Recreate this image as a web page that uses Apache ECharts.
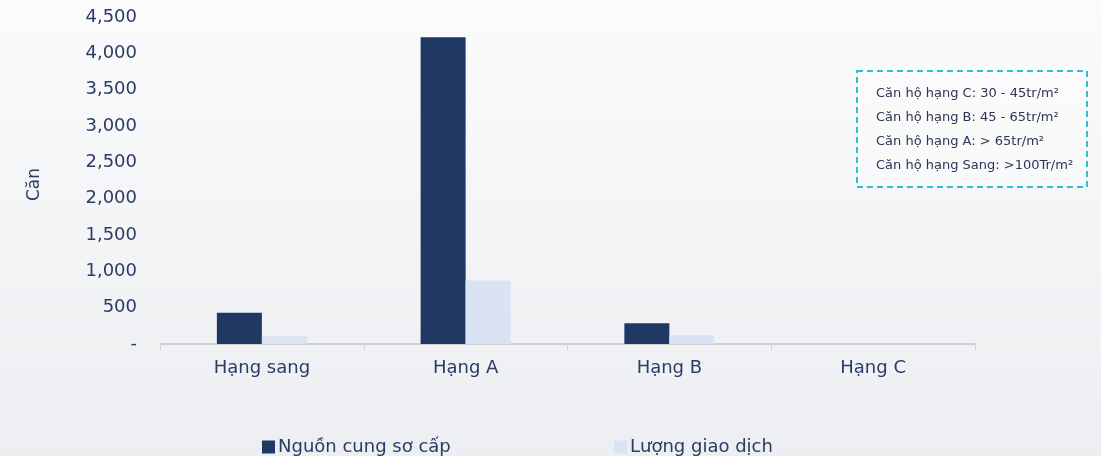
<!DOCTYPE html>
<html>
<head>
<meta charset="utf-8">
<script src="https://cdn.jsdelivr.net/npm/echarts@6/dist/echarts.min.js"></script>
<style>
  html, body { margin: 0; padding: 0; }
  #chart { width: 1101px; height: 456px;
    background: linear-gradient(180deg, #fbfbfc 0%, #f3f4f6 55%, #eceef1 100%); }
</style>
</head>
<body>
<div id="chart"></div>
<script>
// Apartment segments
const categories = ['Hạng sang', 'Hạng A', 'Hạng B', 'Hạng C'];
// Units (căn)
const primarySupply = [430, 4220, 287, 0];
const transactions = [108, 875, 121, 0];
const seriesNames = ['Nguồn cung sơ cấp', 'Lượng giao dịch'];
const yTicks = { min: 0, max: 4500, interval: 500 };
const priceNotes = [
  'Căn hộ hạng C: 30 - 45tr/m²',
  'Căn hộ hạng B: 45 - 65tr/m²',
  'Căn hộ hạng A: > 65tr/m²',
  'Căn hộ hạng Sang: >100Tr/m²'
];

const textColor = '#2a3b66';
const fontFamily = '"DejaVu Sans", "Noto Sans", sans-serif';

const chart = echarts.init(document.getElementById('chart'), null, { renderer: 'canvas' });

const legendBase = {
  top: 433,
  itemWidth: 13,
  itemHeight: 13,
  icon: 'rect',
  textStyle: { color: textColor, fontSize: 18, fontFamily, padding: [0, 0, 0, -2] }
};

chart.setOption({
  backgroundColor: 'transparent',
  textStyle: { fontFamily },
  grid: { left: 160, right: 126, top: 17, bottom: 112 },
  legend: [
    Object.assign({ left: 257, data: [seriesNames[0]] }, legendBase),
    Object.assign({ left: 609, data: [seriesNames[1]] }, legendBase)
  ],
  xAxis: {
    type: 'category',
    data: categories,
    axisLine: { lineStyle: { color: '#cfd0d3', width: 2 } },
    axisTick: { show: true, length: 6, lineStyle: { color: '#cfd0d3', width: 1 } },
    axisLabel: { color: textColor, fontSize: 18, margin: 15, fontFamily }
  },
  yAxis: {
    type: 'value',
    min: yTicks.min,
    max: yTicks.max,
    interval: yTicks.interval,
    name: 'Căn',
    nameLocation: 'middle',
    nameGap: 117,
    nameRotate: 90,
    nameTextStyle: { color: textColor, fontSize: 17, fontFamily, padding: [0, 8, 0, 0] },
    axisLine: { show: false },
    axisTick: { show: false },
    splitLine: { show: false },
    axisLabel: {
      color: textColor,
      fontSize: 18,
      margin: 23,
      fontFamily,
      formatter: v => v === 0 ? '-' : v.toLocaleString('en-US')
    }
  },
  series: [
    {
      name: seriesNames[0],
      type: 'bar',
      data: primarySupply,
      barWidth: 45,
      barGap: '0%',
      itemStyle: { color: '#203864' }
    },
    {
      name: seriesNames[1],
      type: 'bar',
      data: transactions,
      barWidth: 45,
      barGap: '0%',
      itemStyle: { color: '#dae3f3' }
    }
  ],
  graphic: [
    {
      type: 'rect',
      left: 856,
      top: 70,
      shape: { width: 230, height: 116 },
      style: { fill: 'rgba(255,255,255,0.35)', stroke: '#2fbfcf', lineWidth: 2, lineDash: [6, 4] }
    },
    ...priceNotes.map((t, i) => ({
      type: 'text',
      left: 876,
      top: 87 + i * 24,
      style: { text: t, fill: '#2b3550', font: '13px ' + fontFamily }
    }))
  ]
});
</script>
</body>
</html>
